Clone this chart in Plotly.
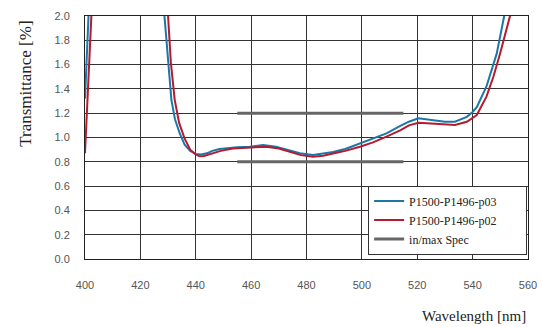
import plotly.graph_objects as go

# Series p03 (blue)
wl_p03 = [400, 400.5, 401.1, 402, 405, 425, 427.5, 428.7, 430, 431.2, 432.5, 434.2, 436, 438,
          440, 442, 444, 446, 448.6, 452, 455, 459.5, 464.3, 469, 473, 477.6, 482.3, 486,
          489.6, 494, 499.3, 504, 508.9, 513.7, 517, 520.4, 525.7, 530, 533.6, 537.9, 540,
          541.5, 545, 548.7, 551.4, 553, 555]
tr_p03 = [1.32, 1.65, 2.0, 2.6, 4.0, 4.0, 2.4, 2.0, 1.6, 1.31, 1.15, 1.035, 0.94, 0.89,
          0.865, 0.86, 0.87, 0.89, 0.905, 0.915, 0.92, 0.924, 0.938, 0.924, 0.90, 0.87, 0.856, 0.865,
          0.88, 0.905, 0.952, 0.99, 1.034, 1.094, 1.13, 1.158, 1.14, 1.13, 1.13, 1.17, 1.21,
          1.25, 1.42, 1.69, 2.0, 2.3, 2.8]

# Series p02 (red)
wl_p02 = [400, 400.7, 401.5, 402.3, 403.5, 406, 426, 428.5, 430, 431, 432.4, 434, 436, 438,
          440, 441.4, 443, 446, 449, 453.4, 459, 465.5, 470, 474, 478, 482.3, 486, 490,
          494, 499.3, 504, 508.9, 514, 517, 520.4, 525, 530, 533.6, 537.9, 541.5, 545,
          547.5, 549.9, 553.5, 555, 557]
tr_p02 = [0.87, 1.2, 1.6, 2.0, 2.8, 4.0, 4.0, 2.5, 2.0, 1.62, 1.31, 1.12, 0.99, 0.90,
          0.86, 0.845, 0.848, 0.87, 0.89, 0.91, 0.915, 0.924, 0.91, 0.885, 0.855, 0.842, 0.85, 0.87,
          0.89, 0.924, 0.96, 1.007, 1.06, 1.1, 1.122, 1.115, 1.105, 1.103, 1.13, 1.185, 1.336,
          1.5, 1.69, 2.0, 2.3, 2.8]

# Min / max spec
spec_wl = [455, 515]
spec_min = 0.8
spec_max = 1.2

x_ticks = [400, 420, 440, 460, 480, 500, 520, 540, 560]
y_ticks = [0.0, 0.2, 0.4, 0.6, 0.8, 1.0, 1.2, 1.4, 1.6, 1.8, 2.0]

serif = "Liberation Serif, DejaVu Serif, serif"
sans = "Liberation Sans, Arial, sans-serif"
pad = "\u00a0" * 8

fig = go.Figure()
fig.add_trace(go.Scatter(x=wl_p03, y=tr_p03, mode="lines", name="P1500-P1496-p03" + pad,
                         line=dict(color="#1b77a6", width=2)))
fig.add_trace(go.Scatter(x=wl_p02, y=tr_p02, mode="lines", name="P1500-P1496-p02",
                         line=dict(color="#b51a2e", width=2)))
fig.add_trace(go.Scatter(x=spec_wl + [None] + spec_wl,
                         y=[spec_max, spec_max, None, spec_min, spec_min],
                         mode="lines", name="in/max Spec", connectgaps=False,
                         line=dict(color="#666666", width=3)))

fig.update_layout(
    width=542, height=327,
    margin=dict(l=85, r=14, t=16, b=68),
    paper_bgcolor="white", plot_bgcolor="white",
    showlegend=True,
    legend=dict(x=0.998, y=0.302, xanchor="right", yanchor="top",
                bgcolor="white", bordercolor="#333", borderwidth=1,
                font=dict(family=serif, size=12, color="#222"),
                tracegroupgap=0, itemwidth=30),
    annotations=[
        dict(text="Transmittance [%]", x=-0.136, y=0.72, xref="paper", yref="paper",
             textangle=-90, showarrow=False, xanchor="center", yanchor="middle",
             font=dict(family=serif, size=17, color="#222")),
        dict(text="Wavelength [nm]", x=1.0, y=-0.235, xref="paper", yref="paper",
             showarrow=False, xanchor="right", yanchor="middle",
             font=dict(family=serif, size=15, color="#222")),
    ],
)
fig.update_xaxes(range=[400, 560], tickvals=x_ticks, ticks="", showgrid=True,
                 gridcolor="#333", gridwidth=1, showline=True, linecolor="#222",
                 linewidth=1, mirror=True, zeroline=False, ticklabelstandoff=16,
                 ticklabeloverflow="allow", automargin=False,
                 tickfont=dict(family=sans, size=11, color="#555"))
fig.update_yaxes(range=[0, 2.0], tickvals=y_ticks, tickformat=".1f", ticks="",
                 showgrid=True, gridcolor="#333", gridwidth=1, showline=True,
                 linecolor="#222", linewidth=1, mirror=True, zeroline=False,
                 ticklabelstandoff=12, automargin=False,
                 tickfont=dict(family=sans, size=11, color="#555"))

fig.write_html("out.html", config={"displayModeBar": False},
               post_script="document.body.style.margin='0';document.body.style.overflow='hidden';")
